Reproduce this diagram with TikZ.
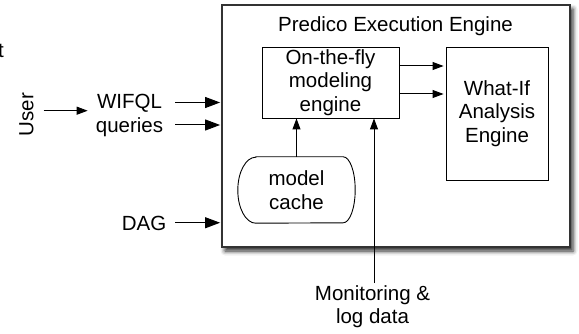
\documentclass[tikz,border=0pt]{standalone}
\usepackage{fontspec}
\setmainfont{Liberation Sans}
\usetikzlibrary{arrows.meta,shadows.blur,calc}

\begin{document}
\begin{tikzpicture}[x=1pt,y=-1pt,
  font=\fontsize{20.5}{23.5}\selectfont,
  lbl/.style={inner sep=0pt,align=center},
  box/.style={draw=black,line width=0.9pt,inner sep=0pt,align=center},
  arr/.style={-{Triangle[length=11pt,width=8pt]},line width=1pt},
  bigarr/.style={-{Triangle[length=15pt,width=11pt]},line width=1pt}]

\useasboundingbox (0,0) rectangle (579,334);

% stray letter cut by the left border
\node[lbl,anchor=base east] (frag) at (4,58) {t};

% execution engine frame with drop shadow
\node[draw=black!80,line width=1.8pt,fill=white,minimum width=348pt,minimum height=242pt,
      blur shadow={shadow xshift=3pt,shadow yshift=-4pt,shadow blur radius=4.5pt,shadow opacity=85}]
      (engine) at (396,126) {};
\node[lbl,anchor=base] (title) at (395.5,32) {Predico Execution Engine};

% inner components
\node[box,minimum width=137pt,minimum height=71pt] (otf) at (330.5,82.5)
      {On-the-fly\\modeling\\engine};
\node[box,minimum width=102pt,minimum height=133pt] (whatif) at (497,113.5)
      {What-If\\Analysis\\Engine};
\node[lbl,minimum width=117pt,minimum height=66pt] (cache) at (296.5,190) {model\\cache};
\draw[line width=0.9pt]
  ($(cache.north west)+(18,0)$) -- ($(cache.north east)+(-12,0)$)
  arc[start angle=90,end angle=-90,x radius=12pt,y radius=33pt]
  -- ($(cache.south west)+(18,0)$)
  arc[start angle=270,end angle=90,x radius=18pt,y radius=33pt] -- cycle;

% outside inputs
\node[lbl,rotate=90,anchor=base] (user) at (33.3,114.5) {User};
\node[lbl] (wq) at (129.5,115.4) {WIFQL\\queries};
\node[lbl,anchor=base] (dag) at (144,231) {DAG};
\node[lbl,anchor=north] (mon) at (372.5,285) {Monitoring \&\\log data};

% connectors
\coordinate (u1) at ([xshift=10pt,yshift=3.8pt]user.south);
\draw[arr,shorten >=8pt] (u1) -- (u1 -| wq.west);

\coordinate (q1) at ([xshift=12pt,yshift=12.9pt]wq.east);
\coordinate (q2) at ([xshift=12pt,yshift=-9.6pt]wq.east);
\draw[bigarr,shorten >=1pt] (q1) -- (q1 -| engine.west);
\draw[bigarr,shorten >=1pt] (q2) -- (q2 -| engine.west);

\coordinate (d1) at ([xshift=9pt,yshift=1.2pt]dag.east);
\draw[bigarr,shorten >=1pt] (d1) -- (d1 -| engine.west);

\coordinate (o1) at ([yshift=16.5pt]otf.east);
\coordinate (o2) at ([yshift=-11.5pt]otf.east);
\draw[arr,shorten >=2pt] (o1) -- (o1 -| whatif.west);
\draw[arr,shorten >=2pt] (o2) -- (o2 -| whatif.west);

\draw[arr] (cache.north) -- (cache.north |- otf.south);

\coordinate (m1) at ([xshift=1.5pt,yshift=2pt]mon.north);
\draw[arr] (m1) -- (m1 |- otf.south);
\end{tikzpicture}
\end{document}
